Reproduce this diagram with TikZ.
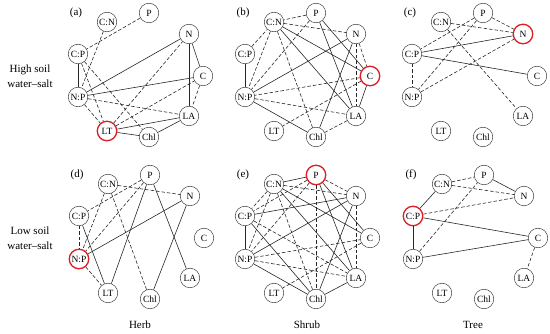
\documentclass[tikz,border=0pt]{standalone}
\usepackage{fontspec}
\setmainfont{Liberation Serif}
\definecolor{hotred}{RGB}{222,30,36}

\begin{document}
\begin{tikzpicture}[
        x=1pt, y=-1pt,
        var/.style={circle, draw=black!75, fill=white, line width=0.5pt, minimum size=19.5pt, inner sep=0pt, font=\fontsize{9.5}{10}\selectfont},
        hot/.style={draw=hotred, line width=1.3pt},
        link/.style={draw=black!85, line width=0.6pt},
        dlink/.style={link, dash pattern=on 3.5pt off 2pt},
        tag/.style={font=\fontsize{11}{12}\selectfont},
        side/.style={align=center, font=\fontsize{11}{14.5}\selectfont},
        aLT/.style=hot, bC/.style=hot, cN/.style=hot, dNP/.style=hot, eP/.style=hot, fCP/.style=hot
    ]
        \useasboundingbox (0,0) rectangle (550,334);

        % Variable nodes, same circular layout in every panel
        \foreach \p/\cx/\cy in {a/78/54, b/245/54, c/412/54, d/79/216, e/245/216, f/413/216} {
            \node[tag] (\p tag) at ({\cx-2},{\cy-41}) {(\p)};
            \node[var, \p CP/.try] (\p CP) at (\cx,\cy) {C:P};
            \node[var, \p CN/.try] (\p CN) at ({\cx+29},{\cy-32}) {C:N};
            \node[var, \p P/.try] (\p P) at ({\cx+71},{\cy-41}) {P};
            \node[var, \p N/.try] (\p N) at ({\cx+111},{\cy-20}) {N};
            \node[var, \p C/.try] (\p C) at ({\cx+125},{\cy+22}) {C};
            \node[var, \p LA/.try] (\p LA) at ({\cx+111},{\cy+62}) {LA};
            \node[var, \p Chl/.try] (\p Chl) at ({\cx+71},{\cy+83}) {Chl};
            \node[var, \p LT/.try] (\p LT) at ({\cx+29},{\cy+77}) {LT};
            \node[var, \p NP/.try] (\p NP) at (\cx,{\cy+43}) {N:P};
        }

        % (a) herb, high
        \foreach \u/\v in {CP/NP, NP/N, NP/C, LT/LA, LT/Chl, N/C, N/LA, LA/Chl}
            \draw[link] (a\u) -- (a\v);
        \foreach \u/\v in {CN/NP, P/CP, CP/LT, CP/Chl, NP/LA, NP/LT, LT/N, LT/C, C/LA}
            \draw[dlink] (a\u) -- (a\v);

        % (b) shrub, high
        \foreach \u/\v in {CP/NP, CN/C, CN/LA, P/C, P/LA, N/NP, N/Chl, C/LA, NP/Chl}
            \draw[link] (b\u) -- (b\v);
        \foreach \u/\v in {CP/CN, CN/N, CN/Chl, CN/NP, P/CN, P/NP, N/C, N/LA, C/NP, C/LT, NP/LA, LA/Chl}
            \draw[dlink] (b\u) -- (b\v);

        % (c) tree, high
        \foreach \u/\v in {CP/N, CP/C}
            \draw[link] (c\u) -- (c\v);
        \foreach \u/\v in {CN/N, CN/LA, P/N, P/CP, P/NP, CP/NP, NP/N}
            \draw[dlink] (c\u) -- (c\v);

        % (d) herb, low
        \foreach \u/\v in {P/LT, P/LA, CP/LT, NP/N, N/Chl}
            \draw[link] (d\u) -- (d\v);
        \foreach \u/\v in {CN/N, CN/NP, CN/Chl, P/CP, P/NP, CP/NP, NP/LT}
            \draw[dlink] (d\u) -- (d\v);

        % (e) shrub, low
        \foreach \u/\v in {CN/P, CN/C, CN/LA, P/C, P/LA, CP/N, CP/Chl, CP/NP, NP/N, NP/Chl, N/Chl, LA/Chl}
            \draw[link] (e\u) -- (e\v);
        \foreach \u/\v in {CN/N, CN/Chl, CN/CP, CN/NP, P/N, P/Chl, P/CP, P/NP, CP/LA, NP/C, NP/LA, N/LA, C/LT}
            \draw[dlink] (e\u) -- (e\v);

        % (f) tree, low
        \foreach \u/\v in {CN/CP, P/N, CP/C, CP/NP, NP/C}
            \draw[link] (f\u) -- (f\v);
        \foreach \u/\v in {CN/P, CN/N, CP/N, NP/P, C/LA}
            \draw[dlink] (f\u) -- (f\v);

        % Row and column labels
        \node[side] (high) at (30,76) {High soil\\water–salt};
        \node[side] (low) at (30,238) {Low soil\\water–salt};
        \node[side] (herb) at (140,325) {Herb};
        \node[side] (shrub) at (307,325) {Shrub};
        \node[side] (tree) at (473,325) {Tree};
    \end{tikzpicture}
\end{document}
